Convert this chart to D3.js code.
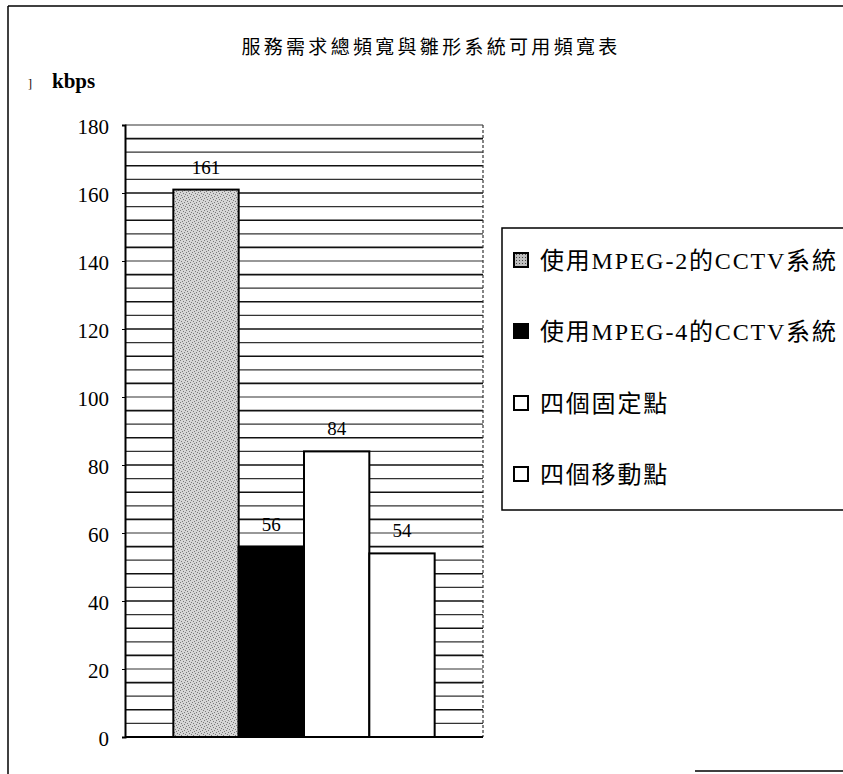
<!DOCTYPE html>
<html>
<head>
<meta charset="utf-8">
<script src="https://cdn.jsdelivr.net/npm/d3@7"></script>
<style>
  html, body { margin: 0; padding: 0; background: #fff; }
  svg { display: block; }
</style>
</head>
<body>
<svg id="chart" width="843" height="774"></svg>
<script>
// ---- data ----
const title = "服務需求總頻寬與雛形系統可用頻寬表";
const unitLabel = "kbps";
const seriesNames = ["使用MPEG-2的CCTV系統", "使用MPEG-4的CCTV系統", "四個固定點", "四個移動點"];
const seriesValues = [161, 56, 84, 54];
const yTickValues = [0, 20, 40, 60, 80, 100, 120, 140, 160, 180];
const yTickLabels = ["0", "20", "40", "60", "80", "100", "120", "140", "160", "180"];
const yMax = 180;
const gridStep = 4;

// ---- layout ----
const W = 843, H = 774;
const plot = { left: 125, right: 483, top: 125, bottom: 737 };
const serif = "'Liberation Serif', 'Noto Sans CJK TC', serif";

const svg = d3.select("#chart");

// patterns
const defs = svg.append("defs");
const pat = defs.append("pattern").attr("id", "stipple")
  .attr("patternUnits", "userSpaceOnUse").attr("width", 6).attr("height", 6);
pat.append("rect").attr("width", 6).attr("height", 6).attr("fill", "#d6d6d6");
[[0,0],[3,1],[1,3],[4,4],[2,5],[5,2]].forEach(([a,b]) =>
  pat.append("rect").attr("x", a).attr("y", b).attr("width", 1).attr("height", 1).attr("fill", "#7a7a7a"));
const pat2 = defs.append("pattern").attr("id", "stippleSmall")
  .attr("patternUnits", "userSpaceOnUse").attr("width", 3).attr("height", 3);
pat2.append("rect").attr("width", 3).attr("height", 3).attr("fill", "#bdbdbd");
pat2.append("rect").attr("x", 0).attr("y", 0).attr("width", 1).attr("height", 1).attr("fill", "#444");

const fills = ["url(#stipple)", "#000", "#fff", "#fff"];
const legendFills = ["url(#stippleSmall)", "#000", "#fff", "#fff"];

// outer frame (partial, as in the scan)
svg.append("line").attr("x1", 8).attr("x2", 8).attr("y1", 6).attr("y2", H)
  .attr("stroke", "#000").attr("stroke-width", 1.5);
svg.append("line").attr("x1", 8).attr("x2", W).attr("y1", 6).attr("y2", 6)
  .attr("stroke", "#000").attr("stroke-width", 1.5);
svg.append("line").attr("x1", 695).attr("x2", W).attr("y1", 771).attr("y2", 771)
  .attr("stroke", "#000").attr("stroke-width", 1.5);

// scales
const y = d3.scaleLinear().domain([0, yMax]).range([plot.bottom, plot.top]);
const x = d3.scaleBand().domain(seriesNames).range([plot.left, plot.right])
  .paddingInner(0).paddingOuter(0.74);

// gridlines
const gridVals = d3.range(0, yMax + 1, gridStep);
svg.append("g").selectAll("line").data(gridVals).join("line")
  .attr("x1", plot.left).attr("x2", plot.right)
  .attr("y1", d => y(d)).attr("y2", d => y(d))
  .attr("stroke", (d, i) => i % 2 ? "#333" : "#111")
  .attr("stroke-width", (d, i) => i % 2 ? 1.2 : 1.6);

// right dotted border of plot
svg.append("line").attr("x1", plot.right).attr("x2", plot.right)
  .attr("y1", plot.top).attr("y2", plot.bottom)
  .attr("stroke", "#333").attr("stroke-width", 1.2).attr("stroke-dasharray", "3,2");

// bars
svg.append("g").selectAll("rect").data(seriesNames).join("rect")
  .attr("x", d => x(d))
  .attr("y", (d, i) => y(seriesValues[i]))
  .attr("width", x.bandwidth())
  .attr("height", (d, i) => y(0) - y(seriesValues[i]))
  .attr("fill", (d, i) => fills[i])
  .attr("stroke", "#000").attr("stroke-width", 2);

// value labels
svg.append("g").selectAll("text").data(seriesNames).join("text")
  .attr("x", d => x(d) + x.bandwidth() / 2)
  .attr("y", (d, i) => y(seriesValues[i]) - 16)
  .attr("text-anchor", "middle")
  .attr("font-family", serif).attr("font-size", 19)
  .text((d, i) => seriesValues[i]);

// y axis
const yAxis = d3.axisLeft(y).tickValues(yTickValues)
  .tickFormat((d, i) => yTickLabels[i]).tickSize(3).tickPadding(13);
const gy = svg.append("g").attr("transform", `translate(${plot.left},0)`).call(yAxis);
gy.select(".domain").attr("stroke", "#000").attr("stroke-width", 2);
gy.selectAll(".tick line").attr("stroke", "#000");
gy.selectAll(".tick text").attr("font-family", serif).attr("font-size", 21)
  .attr("fill", "#000").attr("dy", "0.42em");

// x baseline
svg.append("line").attr("x1", plot.left).attr("x2", plot.right)
  .attr("y1", y(0)).attr("y2", y(0)).attr("stroke", "#000").attr("stroke-width", 2);

// title
svg.append("text").attr("x", 431).attr("y", 54).attr("text-anchor", "middle")
  .attr("font-family", "'Noto Sans CJK TC', sans-serif").attr("font-size", 19)
  .attr("letter-spacing", 3.3).attr("fill", "#000").text(title);

// unit label
svg.append("text").attr("x", 28).attr("y", 88).attr("font-family", serif)
  .attr("font-size", 12).attr("fill", "#000").text("]");
svg.append("text").attr("x", 52).attr("y", 88).attr("font-family", serif)
  .attr("font-size", 21).attr("font-weight", "bold").attr("fill", "#000").text(unitLabel);

// legend
const lg = svg.append("g");
lg.append("rect").attr("x", 502).attr("y", 228).attr("width", 360).attr("height", 282)
  .attr("fill", "#fff").attr("stroke", "#000").attr("stroke-width", 1.5);
const legendY = [260, 331, 403, 474];
const items = lg.selectAll("g.item").data(seriesNames).join("g").attr("class", "item")
  .attr("transform", (d, i) => `translate(0,${legendY[i]})`);
items.append("rect").attr("x", 514).attr("y", -7).attr("width", 14).attr("height", 14)
  .attr("fill", (d, i) => legendFills[i]).attr("stroke", "#000").attr("stroke-width", 2);
items.append("text").attr("x", 540).attr("y", 0).attr("dy", "0.36em")
  .attr("font-family", serif).attr("font-size", 24).attr("letter-spacing", 1.8)
  .attr("fill", "#000")
  .text(d => d);
</script>
</body>
</html>
